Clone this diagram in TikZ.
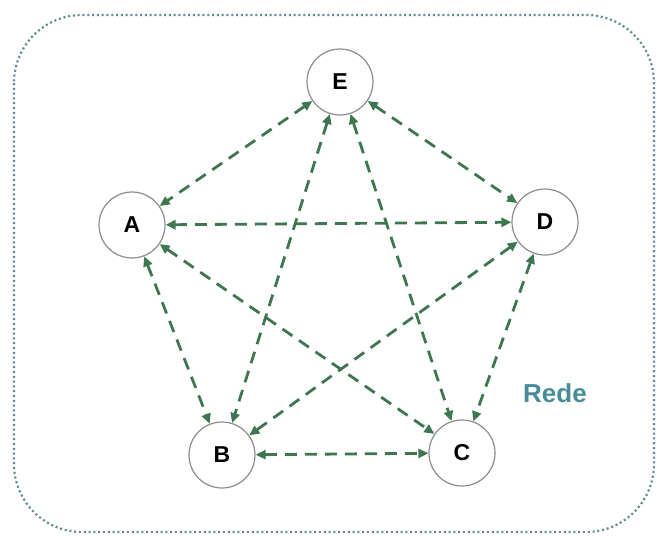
\documentclass[tikz,border=0pt]{standalone}
\usepackage{fontspec}
\setmainfont{Liberation Sans}
\usetikzlibrary{arrows.meta}
\definecolor{edgegreen}{RGB}{62,118,80}
\definecolor{nodegray}{RGB}{140,140,140}
\definecolor{bordercol}{RGB}{95,138,144}
\definecolor{labelcol}{RGB}{72,140,152}
\begin{document}
\begin{tikzpicture}[x=1pt,y=-1pt,
  nd/.style={circle, draw=nodegray, fill=white, line width=1.2pt, minimum size=66pt, inner sep=0pt,
    font=\fontsize{23}{25}\selectfont\bfseries},
  link/.style={edgegreen, line width=2.8pt, dash pattern=on 12pt off 8pt,
    {Triangle[length=10pt,width=9pt]}-{Triangle[length=10pt,width=9pt]}},
  frame/.style={bordercol, line width=2.2pt, dash pattern=on 2pt off 2.8pt, rounded corners=68pt}]
\useasboundingbox (0,0) rectangle (657,536);
\draw[frame] (14,15) rectangle (654,532);
\node[nd] (E) at (340,82) {E};
\node[nd] (A) at (132,225) {A};
\node[nd] (D) at (545,222) {D};
\node[nd] (B) at (222,455) {B};
\node[nd] (C) at (462,453) {C};
\node[labelcol, font=\fontsize{26}{28}\selectfont\bfseries] (lbl) at (555,393) {Rede};
\draw[link] (E) -- (A);
\draw[link] (E) -- (D);
\draw[link] (E) -- (B);
\draw[link] (E) -- (C);
\draw[link] (A) -- (D);
\draw[link] (A) -- (B);
\draw[link] (A) -- (C);
\draw[link] (D) -- (B);
\draw[link] (D) -- (C);
\draw[link] (B) -- (C);
\end{tikzpicture}
\end{document}
